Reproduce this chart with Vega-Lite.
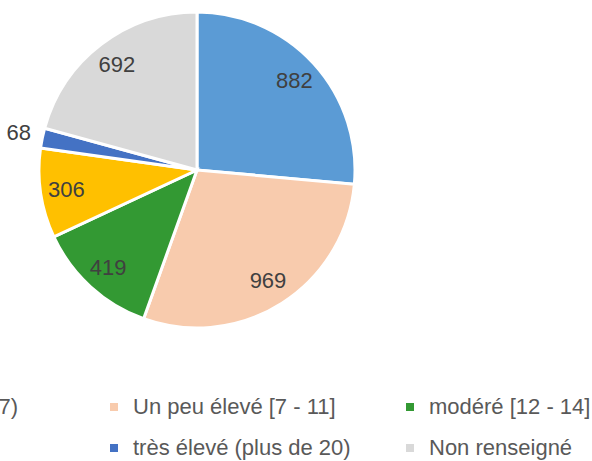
{
  "$schema": "https://vega.github.io/schema/vega-lite/v6.json",
  "width": 394,
  "height": 340,
  "autosize": {"type": "none"},
  "padding": {"left": 0, "top": 0, "right": 198, "bottom": 121},
  "background": "white",
  "data": {
    "values": [
      {"categorie": "faible (moins de 7)", "valeur": 882, "rang": 1},
      {"categorie": "Un peu élevé [7 - 11]", "valeur": 969, "rang": 2},
      {"categorie": "modéré [12 - 14]", "valeur": 419, "rang": 3},
      {"categorie": "élevé [15 - 20]", "valeur": 306, "rang": 4},
      {"categorie": "très élevé (plus de 20)", "valeur": 68, "rang": 5},
      {"categorie": "Non renseigné", "valeur": 692, "rang": 6}
    ]
  },
  "encoding": {
    "theta": {"field": "valeur", "type": "quantitative", "stack": true},
    "order": {"field": "rang", "type": "quantitative"}
  },
  "layer": [
    {
      "mark": {"type": "arc", "outerRadius": 158, "stroke": "white", "strokeWidth": 3},
      "encoding": {
        "color": {
          "field": "categorie",
          "type": "nominal",
          "sort": null,
          "scale": {
            "domain": ["faible (moins de 7)", "Un peu élevé [7 - 11]", "modéré [12 - 14]", "élevé [15 - 20]", "très élevé (plus de 20)", "Non renseigné"],
            "range": ["#5B9BD5", "#F8CBAD", "#339933", "#FFC000", "#4472C4", "#D9D9D9"]
          },
          "legend": {
            "orient": "none",
            "legendX": -193,
            "legendY": 396,
            "direction": "horizontal",
            "columns": 3,
            "title": null,
            "symbolType": "square",
            "symbolSize": 64,
            "symbolStrokeWidth": 0,
            "symbolOpacity": 1,
            "labelFont": "Liberation Sans",
            "labelFontSize": 22,
            "labelColor": "#595959",
            "labelOffset": 8,
            "labelLimit": 400,
            "rowPadding": 19,
            "columnPadding": 48,
            "gridAlign": "all",
            "padding": 0
          }
        }
      }
    },
    {
      "mark": {"type": "text", "radius": 132, "font": "Liberation Sans", "fontSize": 22, "fill": "#404040"},
      "encoding": {
        "text": {"condition": {"test": "datum.valeur < 100", "value": ""}, "field": "valeur", "type": "quantitative"}
      }
    },
    {
      "mark": {"type": "text", "radius": 182, "font": "Liberation Sans", "fontSize": 22, "fill": "#404040"},
      "encoding": {
        "text": {"condition": {"test": "datum.valeur >= 100", "value": ""}, "field": "valeur", "type": "quantitative"}
      }
    }
  ],
  "config": {"view": {"stroke": null}}
}
